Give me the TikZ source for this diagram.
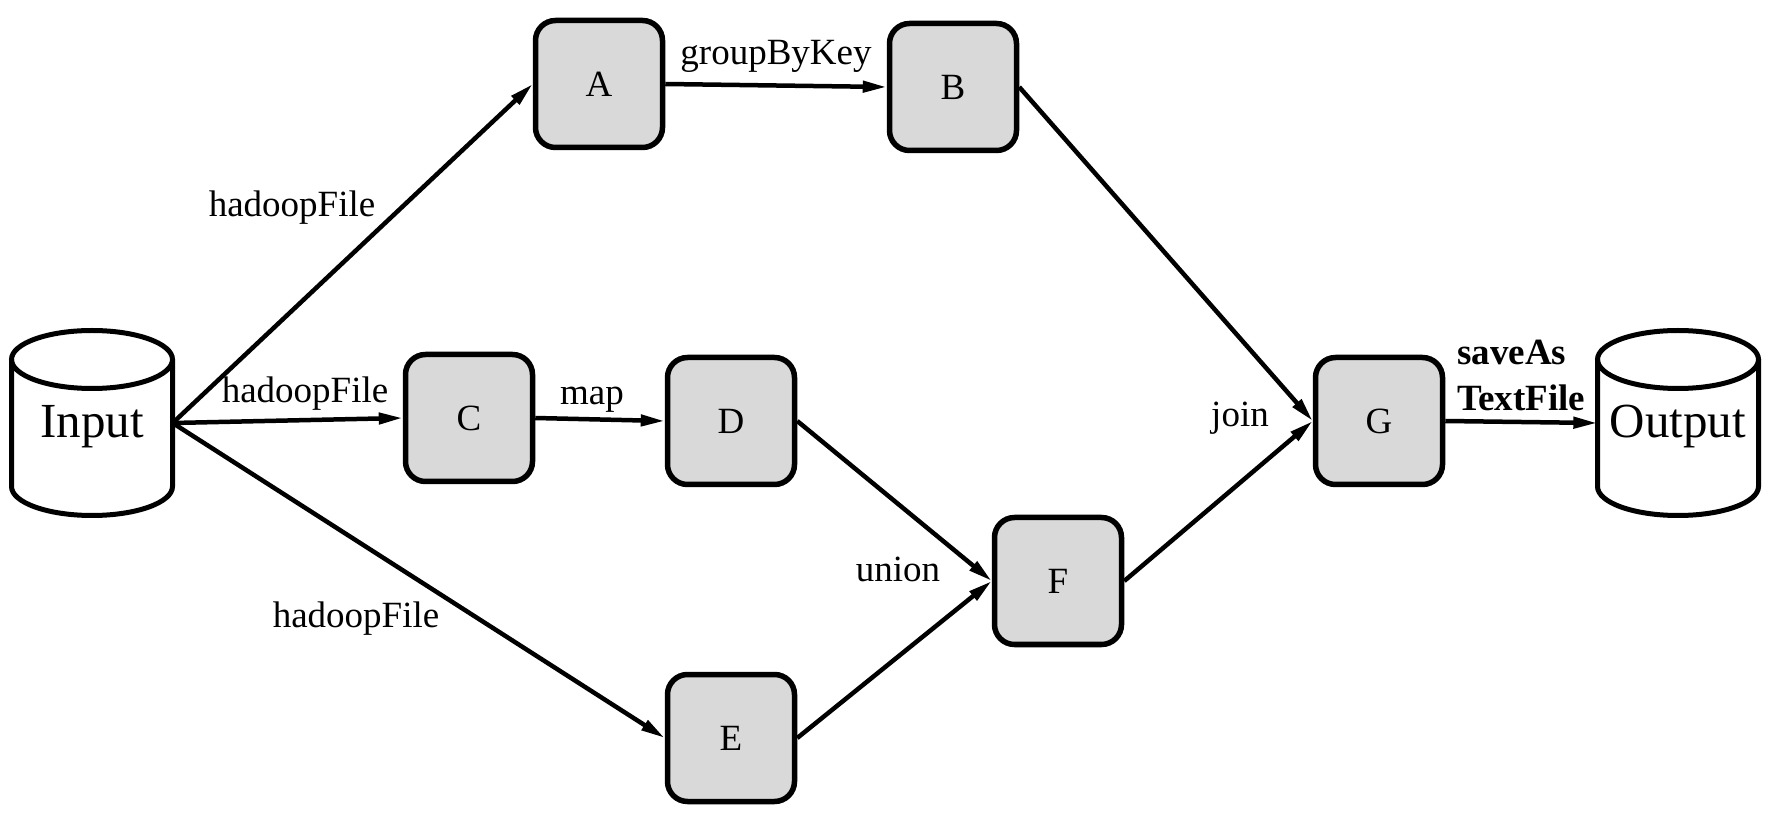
\documentclass[tikz,border=0pt]{standalone}
\usepackage{fontspec}
\setmainfont{Liberation Serif}
\usetikzlibrary{arrows.meta}
\definecolor{boxfill}{RGB}{217,217,217}
\begin{document}
\begin{tikzpicture}[x=1pt,y=1pt,
  box/.style={draw, line width=5.5pt, rounded corners=20pt, fill=boxfill,
    minimum width=127pt, minimum height=127pt, inner sep=0pt,
    font=\fontsize{37pt}{44pt}\selectfont},
  cylnode/.style={minimum width=161pt, minimum height=185pt, inner sep=0pt,
    text height=40pt, text depth=10pt, font=\fontsize{49pt}{58pt}\selectfont},
  cylline/.style={line width=5pt},
  arr/.style={line width=4.5pt, -{Triangle[length=24pt,width=11pt]}},
  lab/.style={anchor=base, inner sep=0pt, font=\fontsize{37pt}{44pt}\selectfont},
  blab/.style={anchor=base west, inner sep=0pt, font=\fontsize{37pt}{44pt}\selectfont\bfseries}]
\useasboundingbox (0,0) rectangle (1765,812);

% cylinders
\node[cylnode] (in) at (92,389) {Input};
\node[cylnode] (out) at (1678,389) {Output};
\foreach \c in {in,out}{
  \draw[cylline] (\c.center) ++(0,63.5) ellipse [x radius=80.5, y radius=29];
  \draw[cylline] (\c.center) ++(-80.5,63.5) -- ++(0,-127)
    arc [start angle=180, end angle=360, x radius=80.5, y radius=29]
    -- ++(0,127);
}

% boxes
\node[box] (A) at (599,728) {A};
\node[box] (B) at (953,725) {B};
\node[box] (C) at (469,394) {C};
\node[box] (D) at (731,391) {D};
\node[box] (E) at (731,74) {E};
\node[box] (F) at (1058,231) {F};
\node[box] (G) at (1379,391) {G};

% connectors
\draw[arr] (in.east) -- (A.west);
\draw[arr] (in.east) -- (C.west);
\draw[arr] (in.east) -- (E.west);
\draw[arr] (A.east) -- (B.west);
\draw[arr] (C.east) -- (D.west);
\draw[arr] (D.east) -- (F.west);
\draw[arr] (E.east) -- (F.west);
\draw[arr] (B.east) -- (G.west);
\draw[arr] (F.east) -- (G.west);
\draw[arr] (G.east) -- (out.west);

% labels
\node[lab] (l1) at (292,595) {hadoopFile};
\node[lab] (l2) at (305,409) {hadoopFile};
\node[lab] (l3) at (356,184) {hadoopFile};
\node[lab] (l4) at (776,747) {groupByKey};
\node[lab] (l5) at (592,407) {map};
\node[lab] (l6) at (898,230) {union};
\node[lab] (l7) at (1240,385) {join};
\node[blab] (l8) at (1457,447) {saveAs};
\node[blab] (l9) at (1457,401) {TextFile};
\end{tikzpicture}
\end{document}
